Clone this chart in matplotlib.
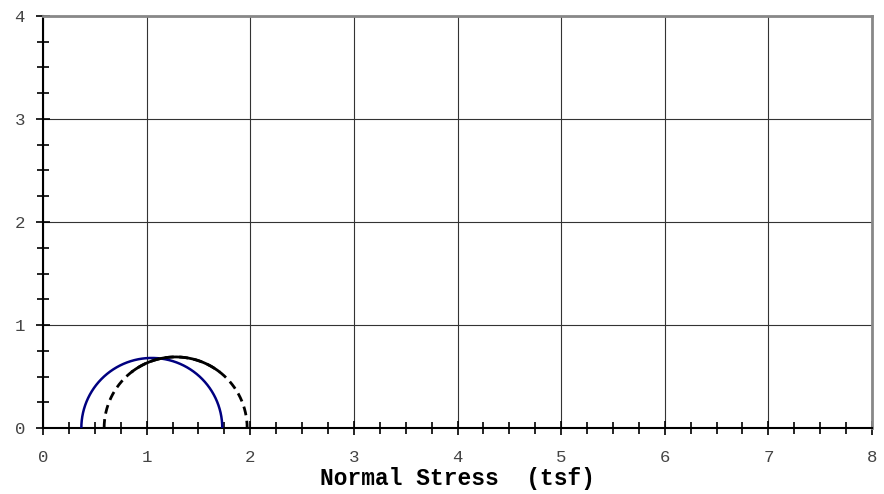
import numpy as np
import matplotlib
matplotlib.use("Agg")
import matplotlib.pyplot as plt
from matplotlib.ticker import MultipleLocator

# Mohr circles: (sigma3, sigma1) in tsf
circle_total = (0.37, 1.73)      # solid navy
circle_effective = (0.59, 1.97)  # dashed black

x_ticks = [0, 1, 2, 3, 4, 5, 6, 7, 8]
y_ticks = [0, 1, 2, 3, 4]

fig = plt.figure(figsize=(8.84, 4.94), dpi=100)
ax = fig.add_axes([43/884, 66/494, (872-43)/884, (428-16)/494])

def circle_pts(s3, s1, n=400):
    c = (s1 + s3) / 2
    r = (s1 - s3) / 2
    t = np.linspace(np.pi, 0, n)
    return c + r*np.cos(t), r*np.sin(t), c, r

x, y, c, r = circle_pts(*circle_total)
ax.plot(x, y, color="#000080", lw=1.8, zorder=3)

x, y, c, r = circle_pts(*circle_effective)
mid = np.abs(x - c) < 0.42
ax.plot(x, y, color="black", lw=2.0, ls=(0, (3.2, 2.0)), zorder=3)
ax.plot(x[mid], y[mid], color="black", lw=2.0, zorder=3)

ax.set_xlim(0, 8)
ax.set_ylim(0, 4)
ax.set_xticks(x_ticks)
ax.set_yticks(y_ticks)
ax.xaxis.set_minor_locator(MultipleLocator(0.25))
ax.yaxis.set_minor_locator(MultipleLocator(0.25))
ax.grid(True, which="major", color="#333333", lw=0.8)
ax.set_axisbelow(True)

for s in ["top", "right"]:
    ax.spines[s].set_color("#888888")
    ax.spines[s].set_linewidth(2)
for s in ["left", "bottom"]:
    ax.spines[s].set_color("black")
    ax.spines[s].set_linewidth(1.5)

ax.tick_params(which="both", direction="inout", color="black", width=1.2,
               labelcolor="#444444", labelsize=12.5, labelfontfamily="Liberation Mono")
ax.tick_params(which="major", length=10)
ax.tick_params(which="minor", length=9)
ax.tick_params(axis="x", which="major", pad=11)
ax.tick_params(axis="y", which="major", pad=8)

ax.set_xlabel("Normal Stress  (tsf)", fontfamily="Liberation Mono", fontweight="bold",
              fontsize=16.5, color="black", labelpad=1)

fig.savefig("out.png", dpi=100)
